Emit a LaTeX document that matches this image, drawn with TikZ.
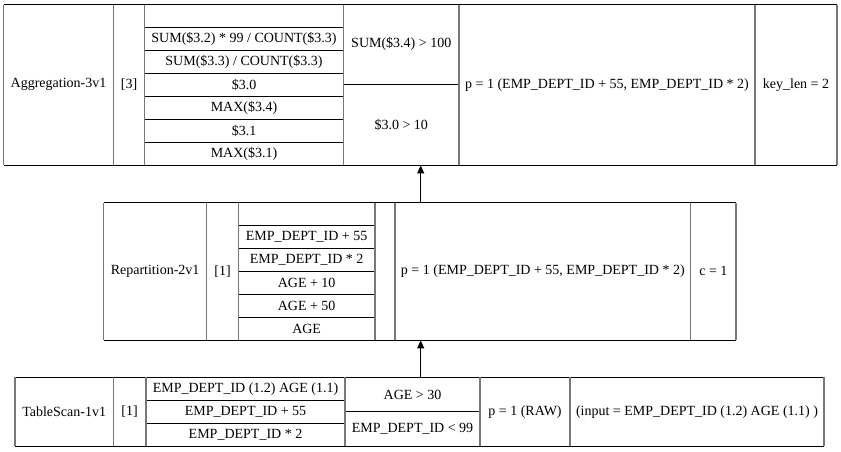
\documentclass[tikz,border=0pt]{standalone}
\usepackage{fontspec}
\setmainfont{Liberation Serif}
\usetikzlibrary{arrows.meta}
\definecolor{vline}{RGB}{120,120,120}
\begin{document}
\begin{tikzpicture}[x=1pt,y=-1pt,
  hline/.style={draw=black,line width=1pt},
  vl/.style={draw=vline,line width=1.1pt},
  lbl/.style={font=\fontsize{14}{16}\selectfont,inner sep=0pt,anchor=center},
  box/.style={draw=none,inner sep=0pt,anchor=north west},
  conn/.style={draw=black,line width=1pt,-{Triangle[length=8pt,width=7pt]}}]
\useasboundingbox (0,0) rectangle (841,451);
\fill[white] (0,0) rectangle (841,451);

% ---------- Aggregation ----------
\node[box,minimum width=833.5pt,minimum height=160.5pt] (agg) at (3.5,4.5) {};
\foreach \y in {4.5,165} \draw[hline] (3.5,\y) -- (837,\y);
\foreach \y in {27.4,50.4,73.3,96.2,119.2,142.1} \draw[hline] (144.5,\y) -- (343.5,\y);
\draw[hline] (343.5,84) -- (459,84);
\foreach \x in {3.5,113.5,144.5,343.5,459,755,837} \draw[vl] (\x,4.5) -- (\x,165);
\node[lbl] (aggname) at (58.5,84.75) {Aggregation-3v1};
\node[lbl] (aggn) at (129,84.75) {[3]};
\node[lbl] (agg2) at (244,38.9) {SUM(\$3.2) * 99 / COUNT(\$3.3)};
\node[lbl] (agg3) at (244,61.9) {SUM(\$3.3) / COUNT(\$3.3)};
\node[lbl] (agg4) at (244,84.8) {\$3.0};
\node[lbl] (agg5) at (244,107.7) {MAX(\$3.4)};
\node[lbl] (agg6) at (244,130.7) {\$3.1};
\node[lbl] (agg7) at (244,153.6) {MAX(\$3.1)};
\node[lbl] (aggf1) at (401.25,44.25) {SUM(\$3.4) > 100};
\node[lbl] (aggf2) at (401.25,124.5) {\$3.0 > 10};
\node[lbl] (aggp) at (607,84.75) {p = 1 (EMP\_DEPT\_ID + 55, EMP\_DEPT\_ID * 2)};
\node[lbl] (aggk) at (796,84.75) {key\_len = 2};

% ---------- Repartition ----------
\node[box,minimum width=632.5pt,minimum height=137.5pt] (rep) at (103.5,202.5) {};
\foreach \y in {202.5,340} \draw[hline] (103.5,\y) -- (736,\y);
\foreach \y in {225.4,248.3,271.25,294.2,317.1} \draw[hline] (238.3,\y) -- (375,\y);
\foreach \x in {103.5,206.7,238.3,375,395,690.7,736} \draw[vl] (\x,202.5) -- (\x,340);
\node[lbl] (repname) at (155.1,271.25) {Repartition-2v1};
\node[lbl] (repn) at (222.5,271.25) {[1]};
\node[lbl] (rep2) at (306.65,236.85) {EMP\_DEPT\_ID + 55};
\node[lbl] (rep3) at (306.65,259.8) {EMP\_DEPT\_ID * 2};
\node[lbl] (rep4) at (306.65,282.7) {AGE + 10};
\node[lbl] (rep5) at (306.65,305.65) {AGE + 50};
\node[lbl] (rep6) at (306.65,328.55) {AGE};
\node[lbl] (repp) at (542.85,271.25) {p = 1 (EMP\_DEPT\_ID + 55, EMP\_DEPT\_ID * 2)};
\node[lbl] (repc) at (713.35,271.25) {c = 1};

% ---------- TableScan ----------
\node[box,minimum width=809pt,minimum height=68.7pt] (ts) at (15,377.3) {};
\foreach \y in {377.3,446} \draw[hline] (15,\y) -- (824,\y);
\foreach \y in {400.3,423.3} \draw[hline] (146,\y) -- (345,\y);
\draw[hline] (345,411.7) -- (480,411.7);
\foreach \x in {15,113.3,146,345,480,570,824} \draw[vl] (\x,377.3) -- (\x,446);
\node[lbl] (tsname) at (64.15,411.65) {TableScan-1v1};
\node[lbl] (tsn) at (129.65,411.65) {[1]};
\node[lbl] (ts1) at (245.5,388.8) {EMP\_DEPT\_ID (1.2) AGE (1.1)};
\node[lbl] (ts2) at (245.5,411.8) {EMP\_DEPT\_ID + 55};
\node[lbl] (ts3) at (245.5,434.65) {EMP\_DEPT\_ID * 2};
\node[lbl] (tsf1) at (412.5,394.5) {AGE > 30};
\node[lbl] (tsf2) at (412.5,428.85) {EMP\_DEPT\_ID < 99};
\node[lbl] (tsp) at (525,411.65) {p = 1 (RAW)};
\node[lbl] (tsi) at (697,411.65) {(input = EMP\_DEPT\_ID (1.2) AGE (1.1) )};

% ---------- connectors ----------
\coordinate (ax) at (420.7,0);
\draw[conn] (ts.north -| ax) -- (rep.south -| ax);
\draw[conn] (rep.north -| ax) -- (agg.south -| ax);
\end{tikzpicture}
\end{document}
